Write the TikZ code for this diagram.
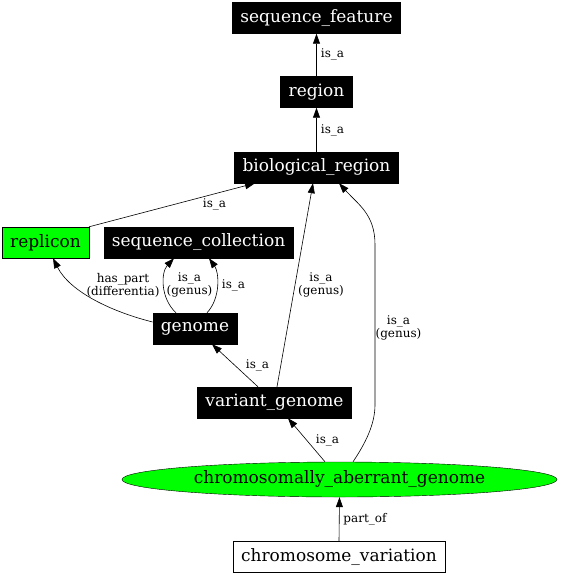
\documentclass[tikz,border=0pt]{standalone}
\usepackage{fontspec}
\setmainfont{DejaVu Serif}
\usetikzlibrary{arrows.meta,shapes.geometric}

\begin{document}
\begin{tikzpicture}[x=1pt,y=-1pt,
	termino/.style={draw=black, fill=black, text=white, inner xsep=8pt, inner ysep=0pt, minimum height=31pt, font=\fontsize{17}{20}\selectfont},
	caja/.style={draw=black, fill=#1, text=black, inner xsep=8pt, inner ysep=0pt, minimum height=31pt, font=\fontsize{17}{20}\selectfont},
	etiq/.style={align=center, inner sep=0pt, font=\fontsize{12}{13}\selectfont},
	flecha/.style={-{Triangle[length=10pt,width=7pt]}, line width=0.6pt}]
	\useasboundingbox (0,0) rectangle (562,576);
	
	% Terminos
		\node[termino] (sf) at (316.5,18) {sequence\_feature};
		\node[termino] (reg) at (316.5,92) {region};
		\node[termino] (bio) at (316.5,167.5) {biological\_region};
		\node[caja=green] (repl) at (45.5,242.5) {replicon};
		\node[termino] (sc) at (198.5,242.5) {sequence\_collection};
		\node[termino] (gen) at (195,328.5) {genome};
		\node[termino] (vg) at (274.5,402.5) {variant\_genome};
		\node[ellipse, draw=black, fill=green, inner sep=0pt, minimum width=435pt, minimum height=35pt, font=\fontsize{17}{20}\selectfont] (cag) at (339.5,479.5) {chromosomally\_aberrant\_genome};
		\node[caja=white] (cv) at (339,557) {chromosome\_variation};
	
	% Relaciones
		\draw[flecha] (reg) -- (sf);
		\draw[flecha] (bio) -- (reg);
		\draw[flecha] (repl.north east) -- ([xshift=-61.5pt]bio.south);
		\draw[flecha] ([yshift=6.5pt]gen.west) .. controls +(-40,-10) and +(17,34) .. ([xshift=7.5pt]repl.south);
		\draw[flecha] ([xshift=-19pt]gen.north) .. controls +(-16,-15) and +(-13,14) .. ([xshift=-24.5pt]sc.south);
		\draw[flecha] ([xshift=12pt]gen.north) .. controls +(14,-15) and +(10,14) .. ([xshift=10.5pt]sc.south);
		\draw[flecha] ([xshift=-16.5pt]vg.north) -- ([xshift=17pt]gen.south);
		\draw[flecha] ([xshift=2.5pt]vg.north) -- ([xshift=-3.5pt]bio.south);
		\draw[flecha] ([xshift=-14.5pt]cag.north) -- ([xshift=13.5pt]vg.south);
		\draw[flecha] ([xshift=13.5pt]cag.north) .. controls +(12,-18) and +(0,20) .. ++(22,-57) -- ++(0,-160) .. controls +(0,-30) and +(20,22) .. ([xshift=22.5pt]bio.south);
		\draw[flecha] (cv.north) -- (cag.south);
	
	% Etiquetas
		\node[etiq] (l1) at (332.5,54) {is\_a};
		\node[etiq] (l2) at (332.5,130) {is\_a};
		\node[etiq] (l3) at (214.5,204) {is\_a};
		\node[etiq] (l4) at (123,285) {has\_part\\(differentia)};
		\node[etiq] (l5) at (189.5,285) {is\_a\\(genus)};
		\node[etiq] (l6) at (233.5,285) {is\_a};
		\node[etiq] (l7) at (257.5,365) {is\_a};
		\node[etiq] (l8) at (321,285) {is\_a\\(genus)};
		\node[etiq] (l9) at (398.5,327.5) {is\_a\\(genus)};
		\node[etiq] (l10) at (327.5,440) {is\_a};
		\node[etiq] (l11) at (365,519) {part\_of};
\end{tikzpicture}
\end{document}
